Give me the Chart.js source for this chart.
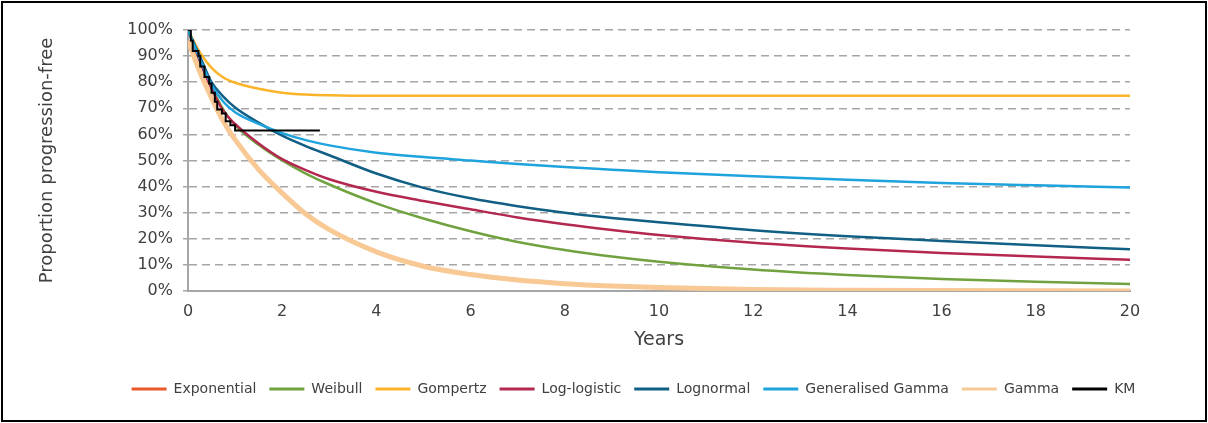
<!DOCTYPE html>
<html>
<head>
<meta charset="utf-8">
<script src="https://cdn.jsdelivr.net/npm/chart.js@4/dist/chart.umd.min.js"></script>
<style>
  html, body { margin: 0; padding: 0; background: #fff; }
  #frame {
    position: absolute; left: 1px; top: 1px;
    width: 1206px; height: 421px; box-sizing: border-box;
    border: 2px solid #000; background: #fff;
  }
  canvas { display: block; }
</style>
</head>
<body>
<div id="frame"><canvas id="pfsChart" width="1202" height="417"></canvas></div>
<script>
// Time grid (years) shared by the fitted curves
const years = [0, 0.25, 0.5, 0.75, 1, 1.5, 2, 2.5, 3, 4, 5, 6, 7, 8, 9, 10, 12, 14, 16, 18, 20];

// Fitted survival curves (% progression-free)
const exponential = [96, 84, 74, 65, 58, 46.5, 37.5, 29.5, 23.5, 15, 9.5, 6.3, 4.2, 2.8, 1.9, 1.3, 0.6, 0.3, 0.15, 0.08, 0.04];
const weibull     = [100, 88, 78, 69.5, 63.5, 56, 50, 45, 40.8, 33.6, 27.8, 22.9, 18.8, 15.7, 13.2, 11.2, 8.2, 6.1, 4.6, 3.5, 2.7];
const gompertz    = [100, 91.5, 85.5, 81.8, 79.8, 77.5, 76, 75.3, 75, 74.8, 74.8, 74.8, 74.8, 74.8, 74.8, 74.8, 74.8, 74.8, 74.8, 74.8, 74.8];
const logLogistic = [100, 88, 77.5, 69, 64, 56.5, 50.5, 46.3, 42.8, 38, 34.5, 31.3, 28.2, 25.6, 23.4, 21.5, 18.5, 16.3, 14.6, 13.2, 12];
const lognormal   = [100, 90, 80, 74.5, 70.3, 64.5, 59.5, 55.5, 52, 45, 39.5, 35.5, 32.5, 30, 28, 26.3, 23.3, 21, 19.2, 17.5, 16];
const genGamma    = [100, 89, 79, 72.5, 68.5, 64, 60.5, 57.8, 55.8, 53, 51.3, 50, 48.7, 47.5, 46.5, 45.5, 44, 42.6, 41.4, 40.5, 39.7];
const gamma       = [96, 84, 74, 65, 58, 46.5, 37.5, 29.5, 23.5, 15, 9.5, 6.3, 4.2, 2.8, 1.9, 1.3, 0.6, 0.3, 0.15, 0.08, 0.04];

// Kaplan-Meier steps
const kmYears    = [0, 0.06, 0.1, 0.22, 0.26, 0.35, 0.45, 0.5, 0.57, 0.62, 0.72, 0.8, 0.9, 1.0, 2.8];
const kmSurvival = [100, 96, 92, 90, 86, 82, 79.5, 76, 72.5, 69.5, 68, 65, 63.5, 61.5, 61.5];

const toPoints = (xs, ys) => xs.map((x, i) => ({ x: x, y: ys[i] }));

const series = [
  { label: 'Exponential',       data: exponential, color: '#e9592b', width: 2.5 },
  { label: 'Weibull',           data: weibull,     color: '#70a23f', width: 2.5 },
  { label: 'Gompertz',          data: gompertz,    color: '#fbb42a', width: 2.5 },
  { label: 'Log-logistic',      data: logLogistic, color: '#b3284f', width: 2.5 },
  { label: 'Lognormal',         data: lognormal,   color: '#115f84', width: 2.5 },
  { label: 'Generalised Gamma', data: genGamma,    color: '#1fa3dd', width: 2.5 },
  { label: 'Gamma',             data: gamma,       color: '#f8c994', width: 5 }
];

const datasets = series.map((s, i) => ({
  label: s.label,
  data: toPoints(years, s.data),
  borderColor: s.color,
  backgroundColor: s.color,
  borderWidth: s.width,
  pointRadius: 0,
  cubicInterpolationMode: 'monotone',
  order: 8 - i
}));

datasets.push({
  label: 'KM',
  data: toPoints(kmYears, kmSurvival),
  borderColor: '#000000',
  backgroundColor: '#000000',
  borderWidth: 2,
  pointRadius: 0,
  stepped: true,
  order: 0
});

const gridGrey = '#a6a6a6';
const textGrey = '#404040';

// nudge the legend so it sits where the original has it
const legendShift = {
  id: 'legendShift',
  afterLayout(chart) {
    chart.legend.left += 52;
    chart.legend.right += 52;
  }
};

new Chart(document.getElementById('pfsChart'), {
  type: 'line',
  data: { datasets: datasets },
  plugins: [legendShift],
  options: {
    responsive: false,
    animation: false,
    devicePixelRatio: 1,
    layout: { padding: { left: 30, right: 75, top: 27, bottom: 14 } },
    plugins: {
      tooltip: { enabled: false },
      legend: {
        position: 'bottom',
        labels: {
          color: textGrey,
          font: { family: 'DejaVu Sans', size: 14 },
          boxWidth: 35,
          boxHeight: 3,
          padding: 13,
          sort: (a, b) => a.datasetIndex - b.datasetIndex,
          generateLabels(chart) {
            const items = Chart.defaults.plugins.legend.labels.generateLabels(chart);
            items.forEach(it => { it.fillStyle = it.strokeStyle; it.lineWidth = 0; });
            return items;
          }
        }
      }
    },
    scales: {
      x: {
        type: 'linear',
        min: 0,
        max: 20,
        afterFit(scale) { scale.height = 78; },
        ticks: {
          stepSize: 2,
          padding: 3,
          color: textGrey,
          font: { family: 'DejaVu Sans', size: 16 }
        },
        grid: { display: false },
        border: { display: true, color: gridGrey, width: 2 },
        title: {
          display: true,
          text: 'Years',
          color: textGrey,
          font: { family: 'DejaVu Sans', size: 19 },
          padding: { top: 0, bottom: 18 }
        }
      },
      y: {
        min: 0,
        max: 100,
        afterFit(scale) { scale.width = 155; },
        ticks: {
          stepSize: 10,
          padding: 10,
          color: textGrey,
          font: { family: 'DejaVu Sans', size: 16 },
          callback: v => v + '%'
        },
        grid: {
          color: gridGrey,
          lineWidth: 1.5,
          drawTicks: true,
          tickLength: 5,
          tickColor: gridGrey,
          tickWidth: 1.5,
          tickBorderDash: []
        },
        border: { display: true, color: gridGrey, width: 2, dash: [8, 5] },
        title: {
          display: true,
          text: 'Proportion progression-free',
          color: textGrey,
          font: { family: 'DejaVu Sans', size: 18 },
          padding: { top: 4, bottom: 4 }
        }
      }
    }
  }
});
</script>
</body>
</html>
